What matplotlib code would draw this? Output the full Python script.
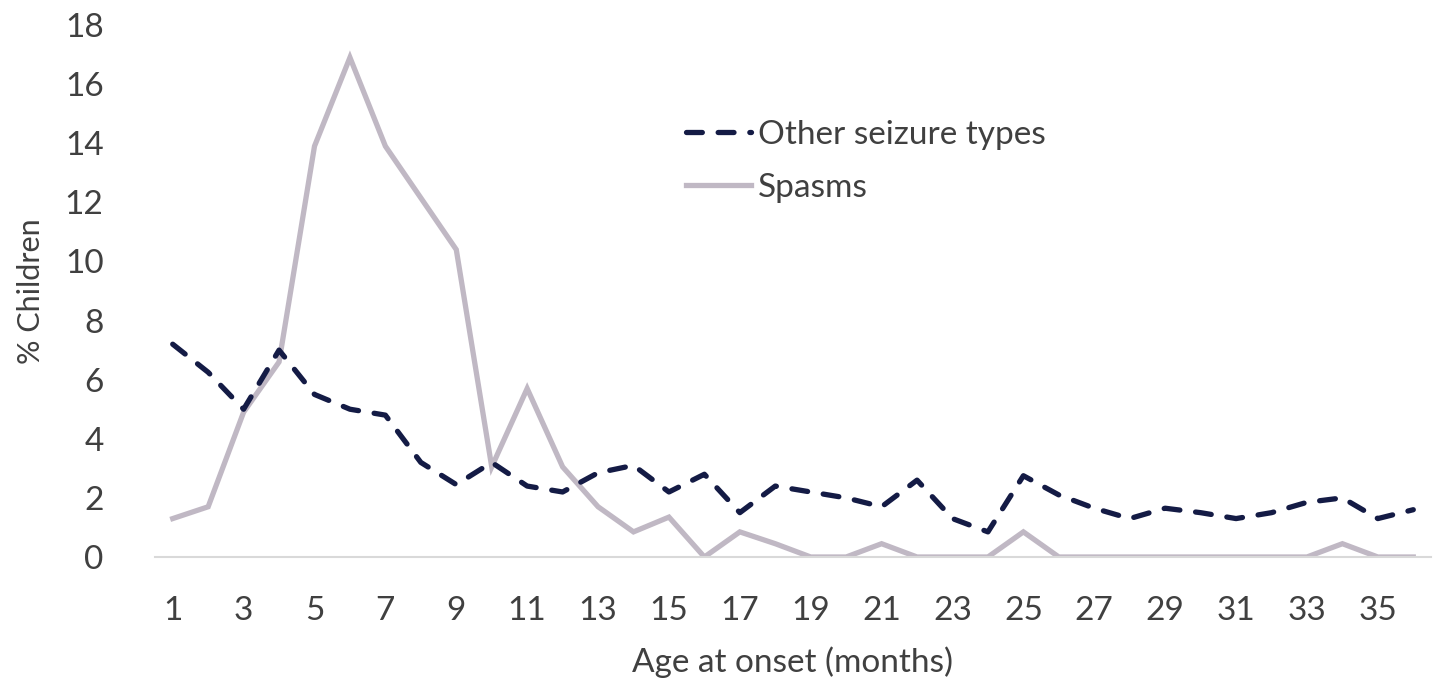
import matplotlib.pyplot as plt
import numpy as np

plt.rcParams['font.family'] = ['Lato', 'DejaVu Sans']

# Age at onset in months
months = np.arange(1, 37)

# % children per month
other_seizures = [7.2, 6.25, 5.0, 7.0, 5.5, 5.0, 4.8, 3.2, 2.45, 3.2,
                  2.4, 2.2, 2.85, 3.1, 2.2, 2.8, 1.5, 2.4, 2.2, 2.0,
                  1.7, 2.6, 1.3, 0.85, 2.75, 2.1, 1.65, 1.3, 1.65, 1.5,
                  1.3, 1.5, 1.85, 2.0, 1.3, 1.6]
spasms = [1.3, 1.7, 4.9, 6.6, 13.9, 16.9, 13.9, 12.15, 10.4, 3.05,
          5.7, 3.05, 1.7, 0.85, 1.35, 0.0, 0.85, 0.45, 0.0, 0.0,
          0.45, 0.0, 0.0, 0.0, 0.85, 0.0, 0.0, 0.0, 0.0, 0.0,
          0.0, 0.0, 0.0, 0.45, 0.0, 0.0]

xtick_vals = np.arange(1, 37, 2)
ytick_vals = np.arange(0, 19, 2)

text_col = '#404040'

fig = plt.figure(figsize=(14.34, 6.85), dpi=100)
ax = fig.add_axes([155 / 1434, 128 / 685, (1431 - 155) / 1434, (557 - 25) / 685])

ax.plot(months, spasms, color='#c0b8c4', lw=3.8, solid_joinstyle='miter',
        label='Spasms', zorder=2)
ax.plot(months, other_seizures, color='#141b45', lw=3.8, linestyle=(0, (3.0, 3.0)),
        dash_capstyle='round', label='Other seizure types', zorder=3)

ax.set_xlim(0.5, 36.5)
ax.set_ylim(0, 18)
ax.set_xticks(xtick_vals)
ax.set_yticks(ytick_vals)
ax.tick_params(axis='both', length=0, labelsize=24, colors=text_col)
ax.tick_params(axis='x', pad=28)
ax.tick_params(axis='y', pad=37)

for side in ['top', 'right', 'left']:
    ax.spines[side].set_visible(False)
ax.spines['bottom'].set_color('#d9d9d9')
ax.spines['bottom'].set_linewidth(1.5)

ax.set_xlabel('Age at onset (months)', fontsize=24, color=text_col, labelpad=15)
ax.set_ylabel('% Children', fontsize=22, color=text_col, labelpad=14)

handles, labels = ax.get_legend_handles_labels()
leg = ax.legend(handles[::-1], labels[::-1], loc='upper left',
                bbox_to_anchor=(656 / 1434, 1 - 90 / 685), bbox_transform=fig.transFigure,
                frameon=False, fontsize=24, handlelength=1.95, handletextpad=0.2,
                labelspacing=0.68)
for t in leg.get_texts():
    t.set_color(text_col)

fig.savefig('out.png', dpi=100)
